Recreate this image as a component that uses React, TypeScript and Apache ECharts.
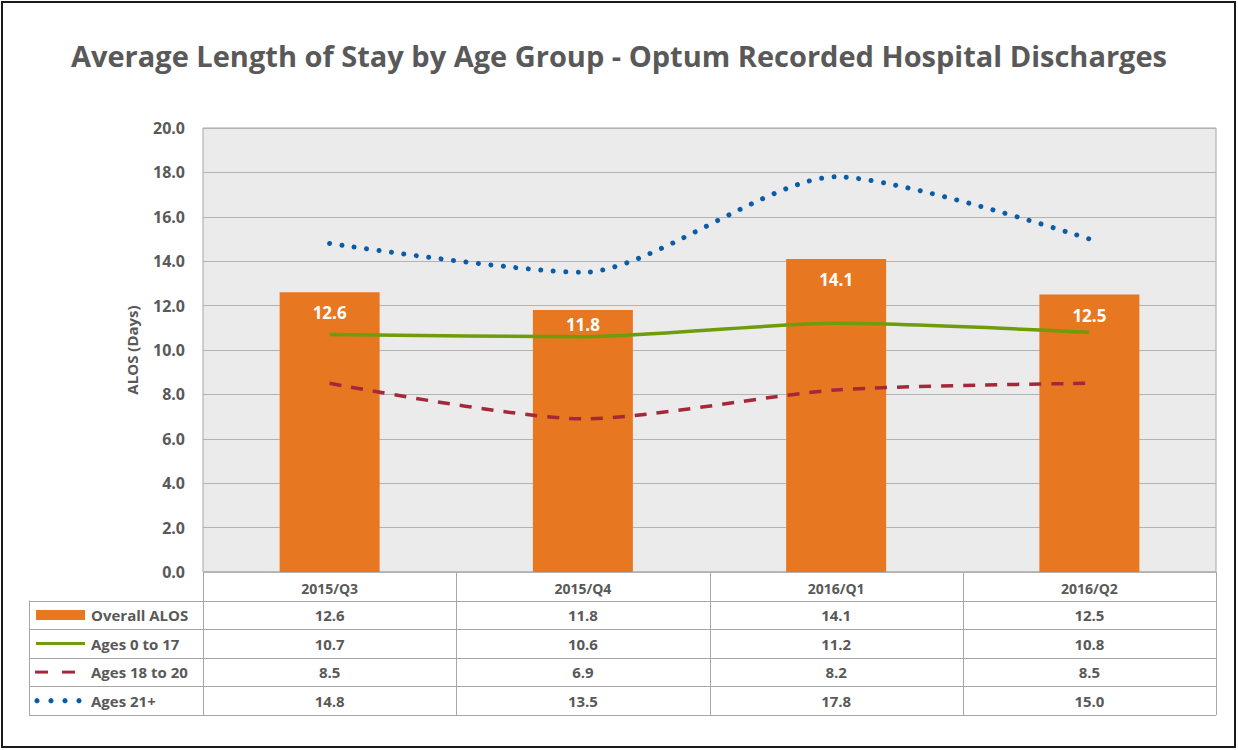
import React, { useEffect, useRef } from "react";
import * as echarts from "echarts";

const categories = ["2015/Q3", "2015/Q4", "2016/Q1", "2016/Q2"];
const overallAlos = [12.6, 11.8, 14.1, 12.5];
const ages0to17 = [10.7, 10.6, 11.2, 10.8];
const ages18to20 = [8.5, 6.9, 8.2, 8.5];
const ages21plus = [14.8, 13.5, 17.8, 15.0];
const seriesNames = ["Overall ALOS", "Ages 0 to 17", "Ages 18 to 20", "Ages 21+"];

const ORANGE = "#E87722";
const GREEN = "#6E9C0A";
const RED = "#A5283A";
const BLUE = "#0B5CA8";
const TXT = "#595959";
const FONT = "'Open Sans', 'Noto Sans', sans-serif";

const W = 1238;
const H = 750;
const GL = 203;
const GR = 1216;
const GT = 128;
const GB = 572;
const ROW_H = 28.6;
const TABLE_LEFT = 29;

export default function App() {
  const ref = useRef<HTMLDivElement>(null);
  useEffect(() => {
    if (!ref.current) return;
    const chart = echarts.init(ref.current, null, { renderer: "svg" });
    const colW = (GR - GL) / categories.length;
    const rows = [overallAlos, ages0to17, ages18to20, ages21plus];
    const graphics: any[] = [];
    // outer border
    graphics.push({
      type: "rect",
      shape: { x: 2, y: 2, width: 1233, height: 745 },
      style: { fill: "none", stroke: "#1a1a1a", lineWidth: 2 },
      silent: true,
    });
    const lineStyle = { stroke: "#a6a6a6", lineWidth: 1 };
    const tableBottom = GB + ROW_H * (rows.length + 1);
    // horizontal lines
    for (let r = 1; r <= rows.length + 1; r++) {
      const y = Math.round(GB + ROW_H * r) + 0.5;
      graphics.push({ type: "line", shape: { x1: TABLE_LEFT, y1: y, x2: GR, y2: y }, style: lineStyle, silent: true });
    }
    graphics.push({ type: "line", shape: { x1: GL, y1: GB, x2: GR, y2: GB }, style: lineStyle, silent: true });
    // vertical lines
    for (let c = 0; c <= categories.length; c++) {
      const x = Math.round(GL + colW * c) + 0.5;
      graphics.push({ type: "line", shape: { x1: x, y1: GB, x2: x, y2: tableBottom }, style: lineStyle, silent: true });
    }
    graphics.push({
      type: "line",
      shape: { x1: TABLE_LEFT + 0.5, y1: GB + ROW_H, x2: TABLE_LEFT + 0.5, y2: tableBottom },
      style: lineStyle,
      silent: true,
    });
    // cell values
    rows.forEach((vals, r) => {
      const cy = GB + ROW_H * (r + 1.5);
      vals.forEach((v, c) => {
        graphics.push({
          type: "text",
          x: GL + colW * (c + 0.5),
          y: cy,
          style: {
            text: v.toFixed(1),
            fill: TXT,
            font: `bold 15px ${FONT}`,
            textAlign: "center",
            textVerticalAlign: "middle",
          },
          silent: true,
        });
      });
      graphics.push({
        type: "text",
        x: 91,
        y: cy,
        style: {
          text: seriesNames[r],
          fill: TXT,
          font: `bold 15px ${FONT}`,
          textAlign: "left",
          textVerticalAlign: "middle",
        },
        silent: true,
      });
    });
    // legend keys
    const ky = (r: number) => GB + ROW_H * (r + 1.5);
    graphics.push({ type: "rect", shape: { x: 36, y: ky(0) - 5, width: 49, height: 10 }, style: { fill: ORANGE }, silent: true });
    graphics.push({ type: "line", shape: { x1: 36, y1: ky(1), x2: 85, y2: ky(1) }, style: { stroke: GREEN, lineWidth: 3 }, silent: true });
    graphics.push({ type: "line", shape: { x1: 35, y1: ky(2), x2: 48, y2: ky(2) }, style: { stroke: RED, lineWidth: 3 }, silent: true });
    graphics.push({ type: "line", shape: { x1: 62, y1: ky(2), x2: 75, y2: ky(2) }, style: { stroke: RED, lineWidth: 3 }, silent: true });
    [37, 51, 65, 79].forEach((x) => {
      graphics.push({ type: "circle", shape: { cx: x, cy: ky(3), r: 2.6 }, style: { fill: BLUE }, silent: true });
    });

    const barLabel = {
      show: true,
      position: "insideTop",
      distance: 12,
      color: "#ffffff",
      fontWeight: "bold",
      fontSize: 17,
      fontFamily: FONT,
      formatter: (p: any) => Number(p.value).toFixed(1),
    };

    chart.setOption({
      animation: false,
      backgroundColor: "#ffffff",
      title: {
        text: "Average Length of Stay by Age Group - Optum Recorded Hospital Discharges",
        left: "center",
        top: 36,
        textStyle: { color: TXT, fontSize: 29, fontWeight: "bold", fontFamily: FONT },
      },
      grid: {
        left: GL,
        right: W - GR,
        top: GT,
        bottom: H - GB,
        show: true,
        backgroundColor: "#ebebeb",
        borderColor: "#a6a6a6",
        borderWidth: 1,
      },
      xAxis: {
        type: "category",
        data: categories,
        axisLine: { show: false },
        axisTick: { show: false },
        axisLabel: { color: TXT, fontWeight: "bold", fontSize: 14, fontFamily: FONT, margin: 9 },
      },
      yAxis: {
        type: "value",
        min: 0,
        max: 20,
        interval: 2,
        name: "ALOS (Days)",
        nameLocation: "middle",
        nameGap: 64,
        nameTextStyle: { color: TXT, fontWeight: "bold", fontSize: 15, fontFamily: FONT },
        axisLine: { show: false },
        axisTick: { show: false },
        axisLabel: {
          color: TXT,
          fontWeight: "bold",
          fontSize: 16,
          fontFamily: FONT,
          margin: 18,
          formatter: (v: number) => v.toFixed(1),
        },
        splitLine: { lineStyle: { color: "#b3b3b3", width: 1 } },
      },
      graphic: graphics,
      series: [
        {
          name: seriesNames[0],
          type: "bar",
          data: overallAlos.map((v, i) =>
            i === 1 ? { value: v, label: { distance: 6 } } : v
          ),
          barWidth: 100,
          itemStyle: { color: ORANGE },
          label: barLabel,
          z: 2,
        },
        {
          name: seriesNames[1],
          type: "line",
          data: ages0to17,
          smooth: 0.25,
          symbol: "none",
          lineStyle: { color: GREEN, width: 3.5 },
          z: 3,
        },
        {
          name: seriesNames[2],
          type: "line",
          data: ages18to20,
          smooth: 0.25,
          symbol: "none",
          lineStyle: { color: RED, width: 3.5, type: [12, 10] },
          z: 3,
        },
        {
          name: seriesNames[3],
          type: "line",
          data: ages21plus,
          smooth: 0.25,
          symbol: "none",
          lineStyle: { color: BLUE, width: 5, type: [0.01, 12.5], cap: "round" },
          z: 3,
        },
      ],
    });
    return () => chart.dispose();
  }, []);
  return (
    <div
      ref={ref}
      style={{ position: "fixed", left: 0, top: 0, width: W, height: H }}
    />
  );
}
